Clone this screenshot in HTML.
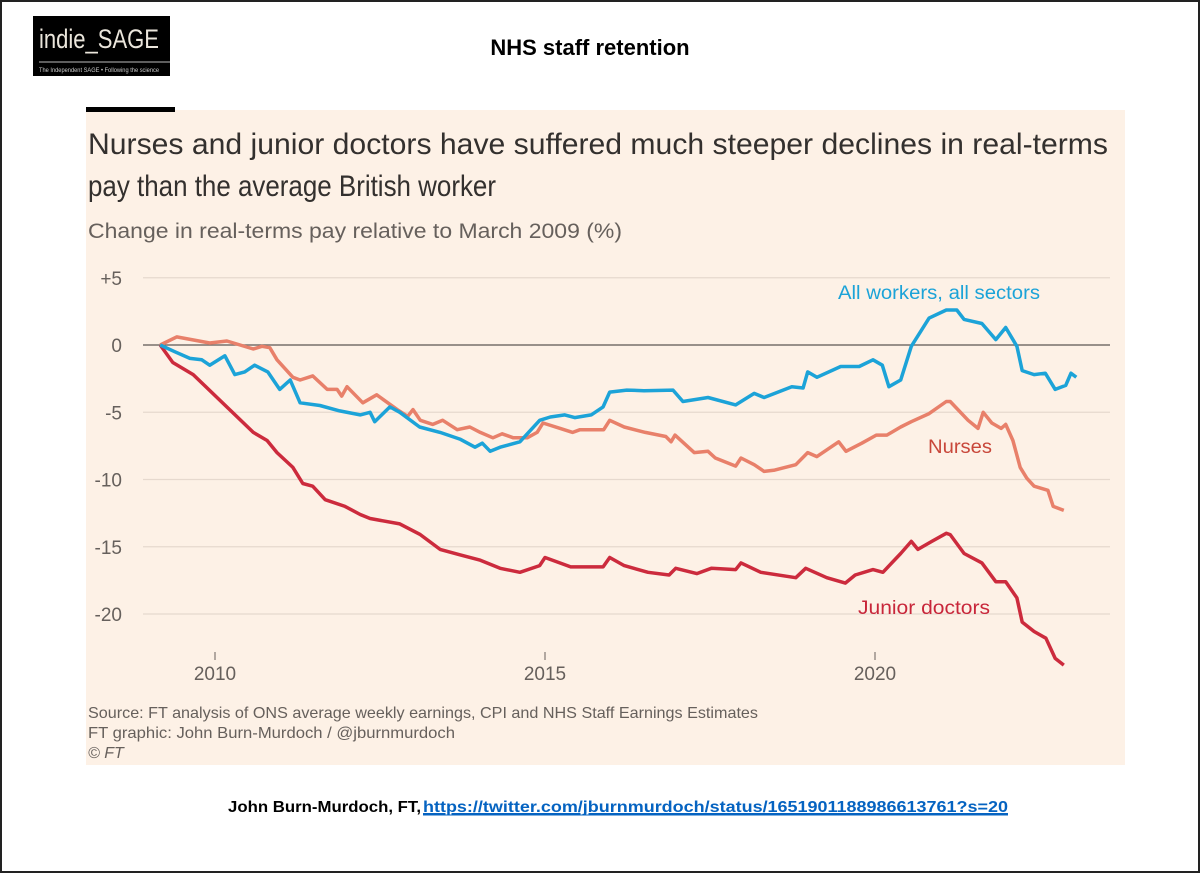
<!DOCTYPE html>
<html><head><meta charset="utf-8"><style>
html,body{margin:0;padding:0;background:#fff;}
svg{display:block;font-family:"Liberation Sans",sans-serif;}
</style></head><body>
<svg id="chart" width="1200" height="873" viewBox="0 0 1200 873">
<rect x="1" y="1" width="1198" height="871" fill="#fff" stroke="#222" stroke-width="2"/>
<g>
<rect x="33" y="16" width="137" height="60" fill="#000"/>
<text x="39" y="48" font-size="27" fill="#ebe6dc" textLength="120" lengthAdjust="spacingAndGlyphs">indie_SAGE</text>
<line x1="39" y1="62" x2="170" y2="62" stroke="#bbb" stroke-width="1"/>
<text x="39" y="72" font-size="6" fill="#ccc" textLength="120" lengthAdjust="spacingAndGlyphs">The Independent SAGE • Following the science</text>
</g>
<text x="590" y="55" font-size="22" font-weight="bold" text-anchor="middle" fill="#000">NHS staff retention</text>
<rect x="86" y="110" width="1039" height="655" fill="#fdf1e6"/>
<rect x="86" y="107" width="89" height="5" fill="#000"/>
<text x="88" y="154" font-size="30" fill="#33302e" textLength="1020" lengthAdjust="spacingAndGlyphs">Nurses and junior doctors have suffered much steeper declines in real-terms</text>
<text x="88" y="196" font-size="30" fill="#33302e" textLength="408" lengthAdjust="spacingAndGlyphs">pay than the average British worker</text>
<text x="88" y="238" font-size="21" fill="#66605c" textLength="534" lengthAdjust="spacingAndGlyphs">Change in real-terms pay relative to March 2009 (%)</text>
<g id="grid"></g>
<g id="lines"></g>
<text x="838" y="299" font-size="19" fill="#1ca3d8" textLength="202" lengthAdjust="spacingAndGlyphs">All workers, all sectors</text>
<text x="928" y="453" font-size="19" fill="#c8473a" textLength="64" lengthAdjust="spacingAndGlyphs">Nurses</text>
<text x="858" y="614" font-size="19" fill="#c8263a" textLength="132" lengthAdjust="spacingAndGlyphs">Junior doctors</text>
<text x="88" y="718" font-size="16" fill="#66605c" textLength="670" lengthAdjust="spacingAndGlyphs">Source: FT analysis of ONS average weekly earnings, CPI and NHS Staff Earnings Estimates</text>
<text x="88" y="738" font-size="16" fill="#66605c" textLength="367" lengthAdjust="spacingAndGlyphs">FT graphic: John Burn-Murdoch / @jburnmurdoch</text>
<text x="88" y="758" font-size="16" fill="#66605c" font-style="italic">© FT</text>
<text x="228" y="812" font-size="16" font-weight="bold" fill="#000" textLength="193" lengthAdjust="spacingAndGlyphs">John Burn-Murdoch, FT,</text>
<text x="423" y="812" font-size="16" font-weight="bold" fill="#0563c1" text-decoration="underline" textLength="585" lengthAdjust="spacingAndGlyphs">https://twitter.com/jburnmurdoch/status/1651901188986613761?s=20</text>
<line x1="423" y1="815" x2="1008" y2="815" stroke="#0563c1" stroke-width="1"/>
</svg>
<script>
const yTicks=[5,0,-5,-10,-15,-20];
const yTickLabels=["+5","0","-5","-10","-15","-20"];
const xTicks=[2010,2015,2020];
const allT=[2009.17,2009.39,2009.62,2009.8,2009.92,2010.15,2010.3,2010.45,2010.6,2010.8,2010.98,2011.14,2011.29,2011.59,2011.89,2012.2,2012.35,2012.42,2012.65,2012.8,2013.1,2013.41,2013.71,2013.94,2014.05,2014.17,2014.32,2014.62,2014.92,2015.08,2015.3,2015.45,2015.7,2015.88,2015.98,2016.24,2016.5,2016.94,2017.09,2017.47,2017.89,2018.17,2018.32,2018.74,2018.91,2018.98,2019.12,2019.48,2019.76,2019.97,2020.11,2020.21,2020.39,2020.55,2020.82,2021.08,2021.24,2021.35,2021.62,2021.83,2021.98,2022.15,2022.23,2022.41,2022.58,2022.73,2022.89,2022.97,2023.05];
const allV=[0,-0.5,-1.0,-1.1,-1.5,-0.8,-2.2,-2.0,-1.5,-2.0,-3.3,-2.6,-4.3,-4.5,-4.9,-5.2,-5.0,-5.7,-4.6,-5.0,-6.1,-6.5,-7.0,-7.6,-7.3,-7.9,-7.6,-7.2,-5.6,-5.35,-5.2,-5.4,-5.2,-4.6,-3.5,-3.35,-3.4,-3.35,-4.2,-3.9,-4.45,-3.6,-3.9,-3.1,-3.2,-2.0,-2.4,-1.6,-1.6,-1.1,-1.5,-3.1,-2.6,-0.1,2.0,2.6,2.6,1.9,1.6,0.4,1.3,-0.1,-1.9,-2.2,-2.1,-3.3,-3.0,-2.1,-2.4];
const nurT=[2009.17,2009.42,2009.92,2010.18,2010.58,2010.71,2010.83,2010.94,2011.18,2011.29,2011.48,2011.7,2011.85,2011.92,2012.0,2012.24,2012.45,2012.76,2012.92,2013.0,2013.11,2013.3,2013.45,2013.67,2013.86,2014.02,2014.21,2014.35,2014.52,2014.73,2014.88,2014.97,2015.23,2015.42,2015.53,2015.89,2015.98,2016.2,2016.52,2016.83,2016.91,2016.97,2017.26,2017.47,2017.58,2017.89,2017.97,2018.17,2018.32,2018.48,2018.8,2018.98,2019.12,2019.45,2019.56,2019.8,2020.02,2020.18,2020.39,2020.55,2020.82,2021.08,2021.14,2021.41,2021.56,2021.64,2021.77,2021.91,2021.98,2022.09,2022.2,2022.3,2022.41,2022.62,2022.7,2022.86];
const nurV=[0,0.6,0.15,0.3,-0.3,-0.1,-0.2,-1.1,-2.4,-2.6,-2.3,-3.3,-3.3,-3.8,-3.1,-4.3,-3.7,-4.8,-5.3,-4.8,-5.6,-5.9,-5.6,-6.3,-6.1,-6.5,-6.9,-6.6,-6.9,-6.9,-6.5,-5.8,-6.2,-6.5,-6.3,-6.3,-5.6,-6.1,-6.5,-6.8,-7.2,-6.7,-8.0,-7.9,-8.4,-9.0,-8.4,-8.9,-9.4,-9.3,-8.9,-8.0,-8.3,-7.2,-7.9,-7.3,-6.7,-6.7,-6.1,-5.7,-5.1,-4.2,-4.2,-5.6,-6.2,-5.0,-5.8,-6.2,-5.9,-7.1,-9.1,-9.9,-10.5,-10.8,-12.0,-12.3];
const jdT=[2009.17,2009.36,2009.67,2010.58,2010.79,2010.94,2011.18,2011.33,2011.48,2011.67,2011.97,2012.2,2012.35,2012.8,2013.11,2013.41,2013.71,2014.02,2014.32,2014.62,2014.92,2015.0,2015.39,2015.88,2015.98,2016.2,2016.56,2016.88,2016.98,2017.3,2017.52,2017.89,2017.97,2018.27,2018.8,2018.95,2019.27,2019.55,2019.7,2019.97,2020.12,2020.39,2020.55,2020.65,2020.86,2021.08,2021.14,2021.35,2021.62,2021.83,2021.98,2022.15,2022.23,2022.41,2022.59,2022.73,2022.86];
const jdV=[0,-1.3,-2.2,-6.5,-7.1,-8.0,-9.1,-10.3,-10.5,-11.5,-12.0,-12.6,-12.9,-13.3,-14.1,-15.2,-15.6,-16.0,-16.6,-16.9,-16.4,-15.8,-16.5,-16.5,-15.8,-16.4,-16.9,-17.1,-16.6,-17.0,-16.6,-16.7,-16.2,-16.9,-17.3,-16.6,-17.3,-17.7,-17.1,-16.7,-16.9,-15.5,-14.6,-15.2,-14.6,-14.0,-14.1,-15.5,-16.2,-17.6,-17.6,-18.8,-20.6,-21.3,-21.8,-23.3,-23.8];

const NS="http://www.w3.org/2000/svg";
function xS(t){return 215+(t-2010)*66;}
function yS(v){return 345-v*13.45;}
const grid=document.getElementById('grid');
yTicks.forEach((v,i)=>{
  const l=document.createElementNS(NS,'line');
  l.setAttribute('x1',143);l.setAttribute('x2',1110);
  l.setAttribute('y1',yS(v));l.setAttribute('y2',yS(v));
  l.setAttribute('stroke',v===0?'#77716c':'#e6d9ce');
  l.setAttribute('stroke-width',v===0?1.5:1.2);
  
  
  grid.appendChild(l);
  const t=document.createElementNS(NS,'text');
  t.setAttribute('x',122);t.setAttribute('y',yS(v)+7);
  t.setAttribute('text-anchor','end');t.setAttribute('font-size','19');t.setAttribute('fill','#66605c');
  t.textContent=yTickLabels[i];
  
  
  grid.appendChild(t);
});
xTicks.forEach(y=>{
  const l=document.createElementNS(NS,'line');
  l.setAttribute('x1',xS(y));l.setAttribute('x2',xS(y));l.setAttribute('y1',652);l.setAttribute('y2',660);
  l.setAttribute('stroke','#66605c');
  
  
  grid.appendChild(l);
  const t=document.createElementNS(NS,'text');
  t.setAttribute('x',xS(y));t.setAttribute('y',680);t.setAttribute('text-anchor','middle');
  t.setAttribute('font-size','19');t.setAttribute('fill','#66605c');
  t.textContent=y;
  
  
  grid.appendChild(t);
});
const lines=document.getElementById('lines');
function draw(T,V,color,name){
  const p=document.createElementNS(NS,'path');
  p.setAttribute('d',T.map((t,i)=>(i?'L':'M')+xS(t).toFixed(1)+','+yS(V[i]).toFixed(1)).join(''));
  p.setAttribute('fill','none');p.setAttribute('stroke',color);p.setAttribute('stroke-width','3.5');
  p.setAttribute('stroke-linejoin','round');
  
  
  lines.appendChild(p);
}
draw(jdT,jdV,'#cc2b3d','junior-doctors-line');
draw(nurT,nurV,'#e8806a','nurses-line');
draw(allT,allV,'#1ca3d8','all-workers-line');
</script>
</body></html>
